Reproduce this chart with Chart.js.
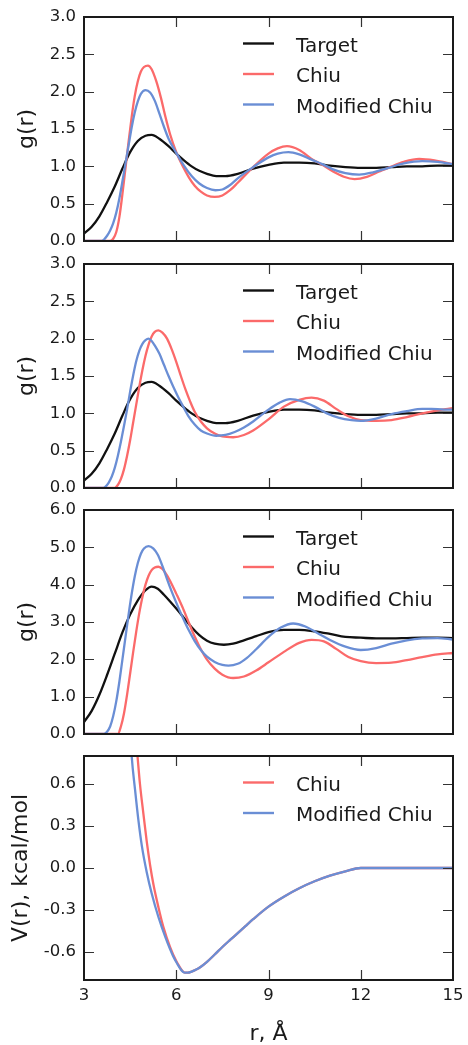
<!DOCTYPE html>
<html lang="en">
<head>
<meta charset="UTF-8">
<title>g(r) and V(r): Target vs Chiu vs Modified Chiu</title>
<style>
  html, body { margin: 0; padding: 0; background: #fff; overflow: hidden; }
  #wrap { position: relative; width: 468px; height: 1045px; }
  #wrap canvas { position: absolute; left: 0; }
</style>
</head>
<body>
<div id="wrap">
  <canvas id="panel1" width="468" height="258" style="top:0px"></canvas>
  <canvas id="panel2" width="468" height="258" style="top:247px"></canvas>
  <canvas id="panel3" width="468" height="258" style="top:493px"></canvas>
  <canvas id="panel4" width="468" height="306" style="top:739px"></canvas>
</div>
<script src="https://cdn.jsdelivr.net/npm/chart.js"></script>
<script>
// ---- data: [r (Å), value] ----
const xTicks = [3, 6, 9, 12, 15];
const gTicks3 = [0, 0.5, 1.0, 1.5, 2.0, 2.5, 3.0];
const gTicks6 = [0, 1, 2, 3, 4, 5, 6];
const vTicks = [-0.6, -0.3, 0, 0.3, 0.6];

// target g(r), same curve in panels 1 and 2
const targetA = [[3.0,0.10],[3.25,0.19],[3.5,0.33],[3.75,0.52],[4.0,0.73],[4.25,0.97],[4.5,1.19],[4.75,1.34],[5.0,1.41],[5.2,1.42],[5.45,1.37],[5.75,1.27],[6.0,1.17],[6.25,1.08],[6.5,1.00],[6.75,0.94],[7.0,0.90],[7.3,0.87],[7.6,0.87],[8.0,0.90],[8.5,0.97],[9.0,1.02],[9.5,1.05],[10.0,1.05],[10.5,1.04],[11.0,1.01],[11.5,0.99],[12.0,0.98],[12.5,0.98],[13.0,0.99],[13.5,1.00],[14.0,1.00],[14.5,1.01],[15.0,1.01]];

const chiu1 = [[3.0,0],[3.85,0],[3.95,0.03],[4.05,0.12],[4.15,0.32],[4.25,0.63],[4.35,0.98],[4.45,1.33],[4.55,1.66],[4.65,1.94],[4.75,2.14],[4.85,2.27],[4.95,2.33],[5.08,2.35],[5.2,2.30],[5.35,2.14],[5.5,1.92],[5.65,1.66],[5.8,1.43],[6.0,1.19],[6.2,1.01],[6.4,0.86],[6.6,0.74],[6.8,0.66],[7.0,0.61],[7.25,0.59],[7.5,0.61],[7.75,0.68],[8.0,0.78],[8.5,0.99],[9.0,1.17],[9.3,1.24],[9.6,1.27],[10.0,1.22],[10.4,1.10],[10.75,1.02],[11.1,0.93],[11.45,0.86],[11.8,0.83],[12.2,0.86],[12.6,0.93],[12.95,0.99],[13.4,1.06],[13.9,1.10],[14.4,1.08],[15.0,1.03]];
const modChiu1 = [[3.0,0],[3.55,0],[3.65,0.02],[3.75,0.07],[3.85,0.14],[3.95,0.24],[4.05,0.38],[4.15,0.57],[4.25,0.80],[4.35,1.04],[4.45,1.28],[4.55,1.52],[4.65,1.72],[4.75,1.87],[4.85,1.97],[5.0,2.02],[5.15,1.99],[5.3,1.88],[5.45,1.71],[5.6,1.53],[5.75,1.37],[6.0,1.18],[6.25,1.01],[6.5,0.87],[6.75,0.77],[7.0,0.71],[7.27,0.68],[7.5,0.69],[7.75,0.75],[8.0,0.84],[8.5,0.99],[9.0,1.12],[9.3,1.17],[9.65,1.19],[10.0,1.16],[10.4,1.09],[10.75,1.03],[11.1,0.96],[11.5,0.91],[11.95,0.89],[12.4,0.92],[12.9,0.98],[13.4,1.04],[14.0,1.07],[14.5,1.06],[15.0,1.03]];

const chiu2 = [[3.0,0],[4.0,0],[4.1,0.04],[4.2,0.12],[4.3,0.25],[4.4,0.43],[4.5,0.64],[4.6,0.88],[4.7,1.12],[4.8,1.36],[4.9,1.58],[5.0,1.77],[5.1,1.92],[5.2,2.03],[5.3,2.09],[5.42,2.11],[5.55,2.08],[5.7,2.00],[5.85,1.86],[6.0,1.69],[6.15,1.50],[6.3,1.32],[6.45,1.16],[6.6,1.02],[6.8,0.89],[7.0,0.80],[7.25,0.73],[7.5,0.69],[7.85,0.68],[8.2,0.71],[8.5,0.77],[9.0,0.92],[9.5,1.09],[10.0,1.18],[10.4,1.21],[10.8,1.17],[11.2,1.06],[11.6,0.96],[12.0,0.91],[12.5,0.90],[13.0,0.91],[13.5,0.95],[14.0,1.00],[14.5,1.04],[15.0,1.07]];
const modChiu2 = [[3.0,0],[3.6,0],[3.7,0.02],[3.8,0.07],[3.9,0.15],[4.0,0.27],[4.1,0.43],[4.2,0.62],[4.3,0.83],[4.4,1.05],[4.5,1.29],[4.6,1.51],[4.7,1.70],[4.8,1.84],[4.9,1.93],[5.0,1.98],[5.1,2.00],[5.2,1.97],[5.3,1.91],[5.45,1.80],[5.6,1.65],[5.75,1.50],[5.9,1.36],[6.05,1.23],[6.2,1.11],[6.4,0.96],[6.6,0.85],[6.8,0.77],[7.0,0.73],[7.3,0.70],[7.6,0.71],[7.9,0.75],[8.2,0.81],[8.5,0.89],[9.0,1.05],[9.35,1.14],[9.7,1.19],[10.1,1.16],[10.5,1.09],[10.9,1.00],[11.3,0.94],[11.7,0.91],[12.0,0.90],[12.5,0.93],[13.0,0.99],[13.5,1.03],[14.0,1.06],[14.3,1.06],[14.7,1.05],[15.0,1.05]];

const target3 = [[3.0,0.32],[3.25,0.62],[3.5,1.05],[3.75,1.58],[4.0,2.15],[4.25,2.72],[4.5,3.20],[4.75,3.58],[5.0,3.85],[5.2,3.95],[5.4,3.89],[5.6,3.73],[5.8,3.55],[6.0,3.36],[6.25,3.11],[6.5,2.86],[6.75,2.65],[7.0,2.50],[7.25,2.42],[7.55,2.39],[7.85,2.42],[8.2,2.51],[8.6,2.62],[9.0,2.73],[9.5,2.79],[10.0,2.79],[10.5,2.75],[11.0,2.68],[11.5,2.60],[12.0,2.58],[12.5,2.56],[13.0,2.56],[13.5,2.57],[14.0,2.58],[14.5,2.58],[15.0,2.57]];
const chiu3 = [[3.0,0],[4.1,0],[4.2,0.2],[4.3,0.55],[4.4,1.05],[4.5,1.62],[4.6,2.20],[4.7,2.75],[4.8,3.25],[4.9,3.67],[5.0,4.00],[5.1,4.24],[5.2,4.39],[5.3,4.46],[5.42,4.48],[5.55,4.42],[5.7,4.25],[5.85,4.02],[6.0,3.76],[6.2,3.40],[6.4,3.00],[6.6,2.61],[6.8,2.27],[7.0,1.99],[7.25,1.75],[7.5,1.59],[7.85,1.50],[8.2,1.54],[8.6,1.70],[9.0,1.92],[9.5,2.20],[10.0,2.44],[10.4,2.52],[10.8,2.48],[11.2,2.28],[11.6,2.06],[12.0,1.95],[12.5,1.90],[13.0,1.91],[13.5,1.98],[14.0,2.06],[14.5,2.13],[15.0,2.17]];
const modChiu3 = [[3.0,0],[3.65,0],[3.75,0.06],[3.85,0.20],[3.95,0.48],[4.05,0.88],[4.15,1.40],[4.25,2.00],[4.35,2.60],[4.45,3.20],[4.55,3.75],[4.65,4.22],[4.75,4.58],[4.85,4.83],[4.95,4.97],[5.1,5.03],[5.25,4.97],[5.4,4.80],[5.55,4.50],[5.7,4.15],[5.85,3.82],[6.0,3.52],[6.2,3.14],[6.4,2.79],[6.6,2.49],[6.8,2.25],[7.0,2.07],[7.25,1.93],[7.5,1.85],[7.7,1.83],[8.0,1.88],[8.3,2.04],[8.6,2.27],[9.0,2.60],[9.4,2.85],[9.8,2.96],[10.2,2.88],[10.6,2.70],[11.0,2.52],[11.5,2.34],[12.0,2.25],[12.5,2.30],[13.0,2.42],[13.5,2.51],[14.0,2.56],[14.5,2.57],[15.0,2.53]];

// pair potentials, kcal/mol
const chiuV = [[4.5,1.55],[4.6,1.20],[4.67,0.98],[4.74,0.80],[4.82,0.60],[4.93,0.39],[5.04,0.19],[5.15,0.02],[5.26,-0.12],[5.42,-0.28],[5.58,-0.42],[5.8,-0.565],[6.0,-0.665],[6.1,-0.703],[6.2,-0.735],[6.28,-0.748],[6.38,-0.748],[6.5,-0.74],[6.65,-0.725],[6.8,-0.705],[7.0,-0.67],[7.25,-0.618],[7.5,-0.564],[7.75,-0.514],[8.0,-0.465],[8.25,-0.415],[8.5,-0.366],[9.0,-0.276],[9.5,-0.205],[10.0,-0.145],[10.5,-0.095],[11.0,-0.055],[11.5,-0.024],[12.0,0],[13.0,0],[14.0,0],[15.0,0]];
const modChiuV = [[4.35,1.60],[4.45,1.18],[4.55,0.80],[4.66,0.56],[4.77,0.34],[4.88,0.16],[5.04,-0.03],[5.2,-0.18],[5.42,-0.35],[5.64,-0.49],[5.9,-0.63],[6.05,-0.69],[6.15,-0.725],[6.22,-0.742],[6.28,-0.748],[6.38,-0.748],[6.5,-0.74],[6.65,-0.725],[6.8,-0.705],[7.0,-0.67],[7.25,-0.618],[7.5,-0.564],[7.75,-0.514],[8.0,-0.465],[8.25,-0.415],[8.5,-0.366],[9.0,-0.276],[9.5,-0.205],[10.0,-0.145],[10.5,-0.095],[11.0,-0.055],[11.5,-0.024],[12.0,0],[13.0,0],[14.0,0],[15.0,0]];

const BLACK = '#111111';
const RED = '#fb6a6a';
const BLUE = '#6a8ed5';
const FONT = "'DejaVu Sans', sans-serif";

Chart.defaults.font.family = FONT;
Chart.defaults.color = '#1a1a1a';

// matplotlib-ish frame: box all round, inward ticks on all four sides, legend top right
const framePlugin = {
  id: 'frame',
  afterDraw(chart) {
    const { ctx, chartArea: a, scales: { x, y } } = chart;
    const tick = 10;
    ctx.save();
    ctx.strokeStyle = '#333';
    ctx.lineWidth = 1.2;
    ctx.beginPath();
    y.ticks.forEach(t => {
      const py = Math.round(y.getPixelForValue(t.value)) + 0.5;
      if (py <= a.top + 2 || py >= a.bottom - 2) return;
      ctx.moveTo(a.left, py); ctx.lineTo(a.left + tick, py);
      ctx.moveTo(a.right, py); ctx.lineTo(a.right - tick, py);
    });
    x.ticks.forEach(t => {
      const px = Math.round(x.getPixelForValue(t.value)) + 0.5;
      if (px <= a.left + 2 || px >= a.right - 2) return;
      ctx.moveTo(px, a.bottom); ctx.lineTo(px, a.bottom - tick);
      ctx.moveTo(px, a.top); ctx.lineTo(px, a.top + tick);
    });
    ctx.stroke();

    ctx.lineWidth = 2;
    ctx.strokeStyle = '#1a1a1a';
    ctx.strokeRect(a.left, a.top, a.right - a.left, a.bottom - a.top);

    // legend
    ctx.font = '20px ' + FONT;
    ctx.textAlign = 'left';
    ctx.textBaseline = 'alphabetic';
    chart.data.datasets.forEach((ds, i) => {
      const ly = a.top + 26.5 + i * 30.5;
      ctx.strokeStyle = ds.borderColor;
      ctx.lineWidth = 2.4;
      ctx.beginPath();
      ctx.moveTo(a.right - 210, ly);
      ctx.lineTo(a.right - 179, ly);
      ctx.stroke();
      ctx.fillStyle = '#1a1a1a';
      ctx.fillText(ds.label, a.right - 157, ly + 8);
    });
    ctx.restore();
  }
};

function makePanel(id, series, yMin, yMax, yTicks, yTitle, yTitlePad, isBottom) {
  return new Chart(document.getElementById(id), {
    type: 'line',
    data: {
      datasets: series.map(s => ({
        label: s.label,
        data: s.points.map(p => ({ x: p[0], y: p[1] })),
        borderColor: s.color,
        backgroundColor: s.color,
        borderWidth: 2.3,
        pointRadius: 0,
        fill: false,
        cubicInterpolationMode: 'monotone',
        order: s.order
      }))
    },
    options: {
      responsive: false,
      animation: false,
      events: [],
      layout: { padding: { top: 17, left: 0, right: 15, bottom: isBottom ? 0 : 17 } },
      plugins: { legend: { display: false }, tooltip: { enabled: false } },
      scales: {
        x: {
          type: 'linear',
          min: 3,
          max: 15,
          afterBuildTicks: s => { s.ticks = xTicks.map(v => ({ value: v })); },
          afterFit: s => { s.height = isBottom ? 65 : 0; s.paddingLeft = 0; s.paddingRight = 0; },
          grid: { display: false, drawTicks: false },
          border: { display: false },
          ticks: {
            display: isBottom,
            padding: 6,
            maxRotation: 0,
            font: { size: 16.5 },
            callback: v => String(v)
          },
          title: {
            display: isBottom,
            text: 'r, Å',
            font: { size: 22, lineHeight: 1 },
            padding: { top: 0, bottom: 0 }
          }
        },
        y: {
          min: yMin,
          max: yMax,
          afterBuildTicks: s => { s.ticks = yTicks.map(v => ({ value: v })); },
          afterFit: s => { s.width = 84; s.paddingTop = 0; s.paddingBottom = 0; },
          grid: { display: false, drawTicks: false },
          border: { display: false },
          ticks: {
            padding: 8,
            font: { size: 16.5 },
            callback: v => Number(v).toFixed(1)
          },
          title: {
            display: true,
            text: yTitle,
            font: { size: 22 },
            padding: { top: yTitlePad, bottom: 0 }
          }
        }
      }
    },
    plugins: [framePlugin]
  });
}

makePanel('panel1', [
  { label: 'Target', points: targetA, color: BLACK, order: 2 },
  { label: 'Chiu', points: chiu1, color: RED, order: 1 },
  { label: 'Modified Chiu', points: modChiu1, color: BLUE, order: 0 }
], 0, 3, gTicks3, 'g(r)', 14, false);

makePanel('panel2', [
  { label: 'Target', points: targetA, color: BLACK, order: 2 },
  { label: 'Chiu', points: chiu2, color: RED, order: 1 },
  { label: 'Modified Chiu', points: modChiu2, color: BLUE, order: 0 }
], 0, 3, gTicks3, 'g(r)', 14, false);

makePanel('panel3', [
  { label: 'Target', points: target3, color: BLACK, order: 2 },
  { label: 'Chiu', points: chiu3, color: RED, order: 1 },
  { label: 'Modified Chiu', points: modChiu3, color: BLUE, order: 0 }
], 0, 6, gTicks6, 'g(r)', 14, false);

makePanel('panel4', [
  { label: 'Chiu', points: chiuV, color: RED, order: 1 },
  { label: 'Modified Chiu', points: modChiuV, color: BLUE, order: 0 }
], -0.8, 0.8, vTicks, 'V(r), kcal/mol', 8.5, true);
</script>
</body>
</html>
